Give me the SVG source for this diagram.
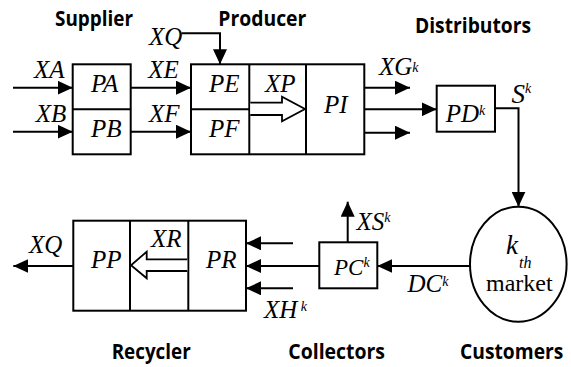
<svg xmlns="http://www.w3.org/2000/svg" width="571" height="367" viewBox="0 0 571 367">
<style>
.box{fill:none;stroke:#000;stroke-width:2}
.ln{fill:none;stroke:#000;stroke-width:2}
.hol{fill:#fff;stroke:#000;stroke-width:1.8;stroke-linejoin:miter}
.lab{font-family:"Liberation Serif","Times New Roman",serif;font-style:italic;font-size:25px;fill:#000}
.rom{font-family:"Liberation Serif","Times New Roman",serif;font-size:24px;fill:#000}
.sup{font-size:14px}
.hd{font-family:"Open Sans","Liberation Sans",sans-serif;font-weight:700;font-size:20.5px;fill:#000}
</style>
<defs>
<marker id="ah" viewBox="0 0 15 14" refX="15" refY="7" markerWidth="15" markerHeight="14" markerUnits="userSpaceOnUse" orient="auto">
<path d="M0,0 L15,7 L0,14 Z" fill="#000"/>
</marker>
</defs>

<!-- headings -->
<g id="headings">
<text class="hd" x="55" y="25.7" textLength="78" lengthAdjust="spacingAndGlyphs">Supplier</text>
<text class="hd" x="218.3" y="25.7" textLength="88" lengthAdjust="spacingAndGlyphs">Producer</text>
<text class="hd" x="415" y="32.7" textLength="116" lengthAdjust="spacingAndGlyphs">Distributors</text>
<text class="hd" x="111.7" y="359" textLength="79" lengthAdjust="spacingAndGlyphs">Recycler</text>
<text class="hd" x="288.3" y="359" textLength="96.7" lengthAdjust="spacingAndGlyphs">Collectors</text>
<text class="hd" x="460" y="359" textLength="103.3" lengthAdjust="spacingAndGlyphs">Customers</text>
</g>

<!-- Supplier -->
<g id="supplier">
<rect class="box" x="72.7" y="64.3" width="58" height="90"/>
<line class="ln" x1="72.7" y1="109.3" x2="130.7" y2="109.3"/>
<text class="lab" x="91" y="91.7">PA</text>
<text class="lab" x="91" y="136.7">PB</text>
</g>

<!-- Producer -->
<g id="producer">
<rect class="box" x="191" y="64.3" width="173.3" height="90"/>
<line class="ln" x1="249.3" y1="64.3" x2="249.3" y2="154.3"/>
<line class="ln" x1="306" y1="64.3" x2="306" y2="154.3"/>
<line class="ln" x1="191" y1="109.3" x2="249.3" y2="109.3"/>
<text class="lab" x="209" y="91.7">PE</text>
<text class="lab" x="209" y="136.7">PF</text>
<text class="lab" x="265" y="91.7">XP</text>
<text class="lab" x="324" y="112.7">PI</text>
<path class="hol" d="M250.3,102.7 L282,102.7 L282,96.7 L305,109 L282,121.3 L282,115 L250.3,115"/>
</g>

<!-- Distributor -->
<g id="distributor">
<rect class="box" x="436.7" y="85.7" width="58.3" height="46"/>
<text class="lab" x="445.7" y="121.7">PD<tspan class="sup" dy="-7">k</tspan></text>
</g>

<!-- Market -->
<g id="market">
<ellipse class="box" cx="518.3" cy="264.2" rx="48.3" ry="57.5"/>
<text class="lab" x="506" y="254.3" style="font-size:27px">k</text>
<text class="lab" x="519" y="268" style="font-size:16px">th</text>
<text class="rom" x="486" y="291">market</text>
</g>

<!-- Collector -->
<g id="collector">
<rect class="box" x="319.3" y="242.3" width="58" height="46"/>
<text class="lab" x="334" y="275" style="font-size:23px">PC<tspan class="sup" dy="-8">k</tspan></text>
</g>

<!-- Recycler -->
<g id="recycler">
<rect class="box" x="73.3" y="220.7" width="172.7" height="90"/>
<line class="ln" x1="130" y1="220.7" x2="130" y2="310.7"/>
<line class="ln" x1="188.3" y1="220.7" x2="188.3" y2="310.7"/>
<text class="lab" x="91" y="268.3">PP</text>
<text class="lab" x="206" y="268.3">PR</text>
<text class="lab" x="151" y="246.7">XR</text>
<path class="hol" d="M187.3,259.3 L146.7,259.3 L146.7,251.7 L131,265.3 L146.7,278.3 L146.7,271 L187.3,271"/>
</g>

<!-- connectors -->
<g id="connectors">
<line class="ln" x1="13" y1="87.7" x2="72.7" y2="87.7" marker-end="url(#ah)"/>
<line class="ln" x1="13" y1="131.7" x2="72.7" y2="131.7" marker-end="url(#ah)"/>
<line class="ln" x1="130.7" y1="87.7" x2="191" y2="87.7" marker-end="url(#ah)"/>
<line class="ln" x1="130.7" y1="131.7" x2="191" y2="131.7" marker-end="url(#ah)"/>
<path class="ln" d="M181.7,33.3 L220,33.3 L220,64.3" marker-end="url(#ah)"/>
<line class="ln" x1="364.3" y1="87.7" x2="410" y2="87.7" marker-end="url(#ah)"/>
<line class="ln" x1="364.3" y1="109.3" x2="436.7" y2="109.3" marker-end="url(#ah)"/>
<line class="ln" x1="364.3" y1="132.7" x2="410" y2="132.7" marker-end="url(#ah)"/>
<path class="ln" d="M495,108.3 L518.5,108.3 L518.5,206.7" marker-end="url(#ah)"/>
<line class="ln" x1="470" y1="266" x2="377.3" y2="266" marker-end="url(#ah)"/>
<line class="ln" x1="347.7" y1="242.3" x2="347.7" y2="201.7" marker-end="url(#ah)"/>
<line class="ln" x1="293" y1="243.3" x2="246" y2="243.3" marker-end="url(#ah)"/>
<line class="ln" x1="319.3" y1="266" x2="246" y2="266" marker-end="url(#ah)"/>
<line class="ln" x1="293" y1="288.3" x2="246" y2="288.3" marker-end="url(#ah)"/>
<line class="ln" x1="73.3" y1="266" x2="13.3" y2="266" marker-end="url(#ah)"/>
<text class="lab" x="34" y="78.3">XA</text>
<text class="lab" x="35.7" y="121.7">XB</text>
<text class="lab" x="148.3" y="78.3">XE</text>
<text class="lab" x="149" y="121.7">XF</text>
<text class="lab" x="149" y="45">XQ</text>
<text class="lab" x="379" y="75">XG<tspan class="sup" dy="-3">k</tspan></text>
<text class="lab" x="511.5" y="103.3" style="font-size:27px">S<tspan class="sup" dy="-10">k</tspan></text>
<text class="lab" x="356.5" y="230">XS<tspan class="sup" dy="-8">k</tspan></text>
<text class="lab" x="407.5" y="291.7">DC<tspan class="sup" dy="-6">k</tspan></text>
<text class="lab" x="264" y="318.3">XH<tspan class="sup" dy="-7"> k</tspan></text>
<text class="lab" x="29" y="252.7">XQ</text>
</g>
</svg>
